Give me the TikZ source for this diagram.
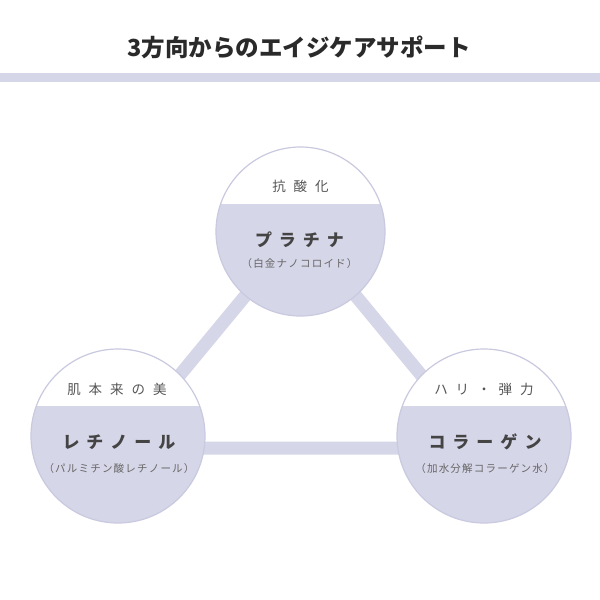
\documentclass[tikz,border=0pt]{standalone}
\usepackage{fontspec}
\setmainfont{Noto Sans CJK JP}
\definecolor{lav}{HTML}{D6D6E9}
\definecolor{lavline}{HTML}{C9C9E0}
\definecolor{titlec}{HTML}{2A2A2A}
\definecolor{labc}{HTML}{555555}
\definecolor{mainc}{HTML}{444444}
\definecolor{subc}{HTML}{666666}
\newcommand{\gA}{\hspace{8pt}}
\newcommand{\gB}{\hspace{7pt}}
\newcommand{\gC}{\hspace{1.2pt}}
\begin{document}
\begin{tikzpicture}[x=1pt,y=-1pt,
  titlestyle/.style={font=\fontsize{23.5}{26}\selectfont\bfseries, text=titlec, inner sep=0},
  lab/.style={font=\fontsize{13.5}{15}\selectfont, text=labc, inner sep=0},
  mainlab/.style={font=\fontsize{17}{19}\selectfont\bfseries, text=mainc, inner sep=0},
  sublab/.style={font=\fontsize{10.5}{12}\selectfont, text=subc, inner sep=0},
  bar/.style={draw=lav, line width=13pt, line join=miter},
  circ/.style 2 args={circle, minimum size=#1, inner sep=0, fill=lav, draw=lavline, line width=1.2pt,
    path picture={\fill[white] ([yshift=5pt]path picture bounding box.north west) rectangle ([yshift=#2]path picture bounding box.east);}}
]
\useasboundingbox (0,0) rectangle (600,600);
\fill[white] (0,0) rectangle (600,600);
% title and band
\node[titlestyle] (title) at (299,47.5) {3方向からのエイジケアサポート};
\fill[lav] (0,73) rectangle (600,82);
% triangle connectors
\coordinate (vT) at (300.5,229);
\coordinate (vL) at (119.5,448);
\coordinate (vR) at (481.5,448);
\draw[bar] (vT) -- (vL) -- (vR) -- cycle;
% circles
\node[circ={169pt}{28pt}] (cT) at (300.5,231.5) {};
\node[circ={174pt}{30pt}] (cL) at (118,436) {};
\node[circ={174pt}{30pt}] (cR) at (484,436) {};
% top circle texts
\node[lab] (tT) at (300.5,186) {抗\gA 酸\gA 化};
\node[mainlab] (mT) at (299.5,240) {プ\gB ラ\gB チ\gB ナ};
\node[sublab] (sT) at (299.5,264) {（\gC 白\gC 金\gC ナ\gC ノ\gC コ\gC ロ\gC イ\gC ド\gC ）};
% left circle texts
\node[lab] (tL) at (117,389.5) {肌\gA 本\gA 来\gA の\gA 美};
\node[mainlab] (mL) at (119,442) {レ\gB チ\gB ノ\gB ー\gB ル};
\node[sublab] (sL) at (119,469) {（\gC パ\gC ル\gC ミ\gC チ\gC ン\gC 酸\gC レ\gC チ\gC ノ\gC ー\gC ル\gC ）};
% right circle texts
\node[lab] (tR) at (484,389.5) {ハ\gA リ\gA ・\gA 弾\gA 力};
\node[mainlab] (mR) at (485,442) {コ\gB ラ\gB ー\gB ゲ\gB ン};
\node[sublab] (sR) at (485,469) {（\gC 加\gC 水\gC 分\gC 解\gC コ\gC ラ\gC ー\gC ゲ\gC ン\gC 水\gC ）};
\end{tikzpicture}
\end{document}
